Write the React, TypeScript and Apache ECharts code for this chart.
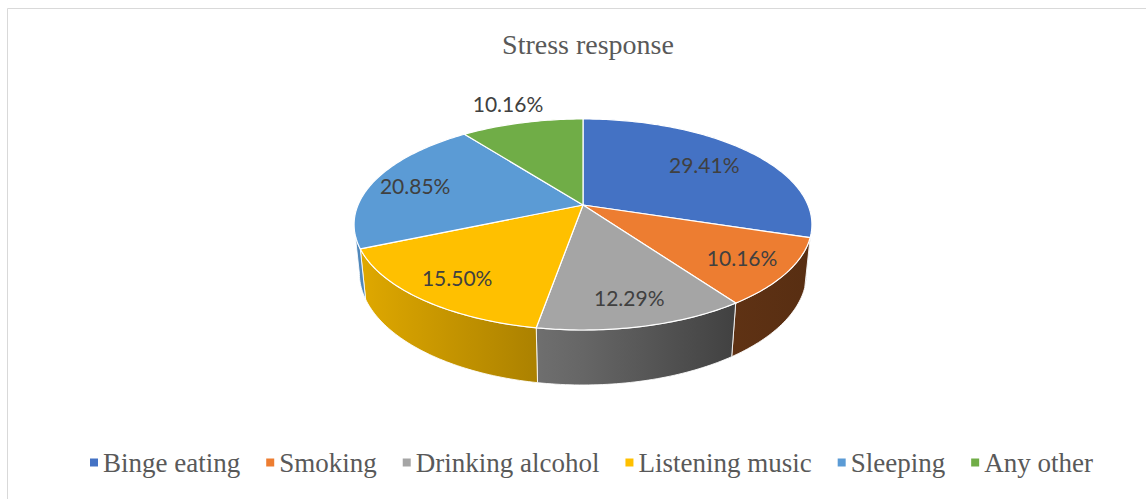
import React, { useEffect, useRef } from "react";
import * as echarts from "echarts";

// ---------- data ----------
const titleText = "Stress response";
const categories = ["Binge eating", "Smoking", "Drinking alcohol", "Listening music", "Sleeping", "Any other"];
const values = [29.41, 10.16, 12.29, 15.5, 20.85, 10.16];

// ---------- style ----------
const colors = ["#4472C4", "#ED7D31", "#A5A5A5", "#FFC000", "#5B9BD5", "#70AD47"];
const labelRadius = [0.72, 0.8, 0.8, 0.8, 0.8, 1.28];
const SERIF = "'Liberation Serif', 'Times New Roman', serif";
const SANS = "Lato, 'Liberation Sans', sans-serif";

// perspective geometry of the 3D pie (unit radius disc)
const CX = 583;
const CY = 205;
const F = 1086;
const D = 4.827;
const SIN_A = 0.453;
const COS_A = 0.8916;
const H = 0.244;
const SIL = Math.acos(-COS_A / D); // silhouette angle (rad)

function project(X: number, Y: number, Z: number): [number, number] {
  const depth = D - Y * SIN_A - Z * COS_A;
  const up = Y * COS_A - Z * SIN_A;
  return [CX + (F * X) / depth, CY - (F * up) / depth];
}
// theta measured clockwise from 12 o'clock
function rim(theta: number, r: number, y: number): [number, number] {
  return project(r * Math.sin(theta), y, -r * Math.cos(theta));
}
function arcPoints(a0: number, a1: number, r: number, y: number) {
  const pts: [number, number][] = [];
  const n = Math.max(2, Math.ceil(((a1 - a0) * 180) / Math.PI));
  for (let k = 0; k <= n; k++) pts.push(rim(a0 + ((a1 - a0) * k) / n, r, y));
  return pts;
}
function sliceAngles(i: number): [number, number] {
  const total = values.reduce((s, v) => s + v, 0);
  let before = 0;
  for (let k = 0; k < i; k++) before += values[k];
  return [(before / total) * Math.PI * 2, ((before + values[i]) / total) * Math.PI * 2];
}
function shade(hex: string, f: number) {
  const n = parseInt(hex.slice(1), 16);
  const r = Math.round(((n >> 16) & 255) * f);
  const g = Math.round(((n >> 8) & 255) * f);
  const b = Math.round((n & 255) * f);
  return `rgb(${r},${g},${b})`;
}

export default function App() {
  const ref = useRef<HTMLDivElement>(null);
  useEffect(() => {
    if (!ref.current) return;
    const chart = echarts.init(ref.current, null, { renderer: "svg" });

    const wallRender = (params: any, api: any) => {
      const i = params.dataIndex;
      const [a0, a1] = sliceAngles(i);
      const lo = Math.max(a0, SIL);
      const hi = Math.min(a1, Math.PI * 2 - SIL);
      if (lo >= hi) return { type: "group", children: [] };
      const top = arcPoints(lo, hi, 1, 0);
      const bottom = arcPoints(lo, hi, 1, -H).reverse();
      const base = colors[i];
      const fill = new echarts.graphic.LinearGradient(
        357, 0, 808, 0,
        [
          { offset: 0, color: shade(base, 0.88) },
          { offset: 0.5, color: shade(base, 0.62) },
          { offset: 0.83, color: shade(base, 0.4) },
          { offset: 1, color: shade(base, 0.37) },
        ],
        true
      );
      return {
        type: "polygon",
        shape: { points: top.concat(bottom) },
        style: { fill, stroke: "rgba(255,255,255,0.85)", lineWidth: 1, lineJoin: "round" },
      };
    };

    const topRender = (params: any, api: any) => {
      const i = params.dataIndex;
      const [a0, a1] = sliceAngles(i);
      const pts = [project(0, 0, 0) as [number, number]].concat(arcPoints(a0, a1, 1, 0));
      const mid = (a0 + a1) / 2;
      const [lx, ly] = rim(mid, labelRadius[i], 0);
      return {
        type: "group",
        children: [
          {
            type: "polygon",
            shape: { points: pts },
            style: { fill: colors[i], stroke: "#ffffff", lineWidth: 1.2, lineJoin: "round" },
          },
          {
            type: "text",
            x: lx,
            y: ly,
            z2: 10,
            style: {
              text: api.value(0).toFixed(2) + "%",
              fill: "#404040",
              fontSize: 21,
              fontFamily: SANS,
              align: "center",
              verticalAlign: "middle",
            },
          },
        ],
      };
    };

    chart.setOption({
      animation: false,
      backgroundColor: "#ffffff",
      title: {
        text: titleText,
        left: 588,
        top: 30,
        textAlign: "center",
        padding: 0,
        textStyle: { fontFamily: SERIF, fontSize: 28, fontWeight: "normal", color: "#595959" },
      },
      legend: {
        data: categories,
        left: 90,
        top: 449,
        padding: 0,
        itemWidth: 8,
        itemHeight: 8,
        itemGap: 26,
        icon: "rect",
        textStyle: { fontFamily: SERIF, fontSize: 27, color: "#595959" },
      },
      graphic: [
        {
          type: "rect",
          shape: { x: 7.5, y: 8.5, width: 1160, height: 520 },
          style: { fill: "none", stroke: "#d9d9d9", lineWidth: 1 },
          silent: true,
        },
      ],
      series: [
        {
          type: "custom",
          name: "walls",
          coordinateSystem: "none",
          silent: true,
          z: 1,
          renderItem: wallRender,
          data: values,
        },
        {
          type: "custom",
          name: "tops",
          coordinateSystem: "none",
          z: 2,
          renderItem: topRender,
          data: values,
        },
        {
          type: "pie",
          name: "Stress response",
          radius: [0, 0],
          center: [-50, -50],
          silent: true,
          label: { show: false },
          labelLine: { show: false },
          data: categories.map((name, i) => ({ name, value: values[i], itemStyle: { color: colors[i] } })),
        },
      ],
    });
    return () => chart.dispose();
  }, []);
  return <div ref={ref} style={{ position: "absolute", left: 0, top: 0, width: 1146, height: 499 }} />;
}
